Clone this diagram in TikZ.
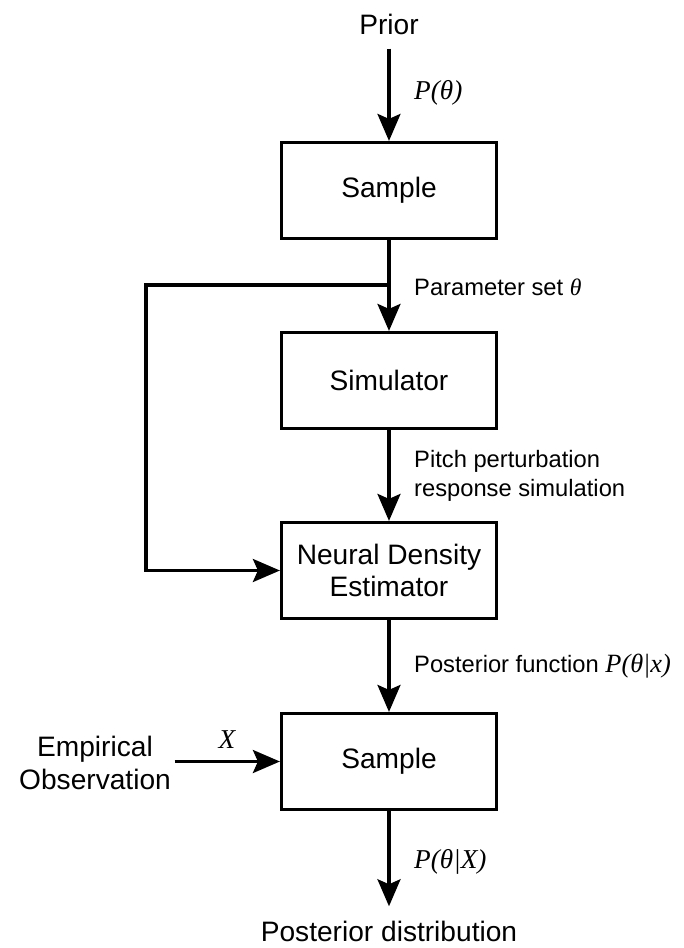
\documentclass[tikz,border=0pt]{standalone}
\usepackage{fontspec}
\setmainfont{Liberation Sans}
\newfontfamily\lblfont{Liberation Serif}
\usetikzlibrary{arrows.meta}

\begin{document}
\begin{tikzpicture}[
  box/.style={draw, line width=1.8pt, minimum width=4.3cm, minimum height=1.92cm, align=center, font=\fontsize{16}{18.7}\selectfont},
  term/.style={align=center, inner sep=8pt, font=\fontsize{16}{18.7}\selectfont},
  side/.style={anchor=west, align=left, font=\fontsize{13.5}{16.5}\selectfont},
  sym/.style={font=\fontsize{15.5}{17}\selectfont\lblfont\itshape},
  flow/.style={line width=1.8pt, -{Stealth[length=5.4mm, width=4.6mm, inset=1mm]}}
]
\useasboundingbox (-7.78, 0) rectangle (5.9, -18.96);

\node[term] (prior) at (0, -0.48) {Prior};
\node[box] (sample) at (0, -3.81) {Sample};
\node[box] (simulator) at (0, -7.61) {Simulator};
\node[box] (nde) at (0, -11.41) {Neural Density\\Estimator};
\node[box] (resample) at (0, -15.23) {Sample};
\node[term, inner xsep=2pt] (empirical) at (-5.88, -15.26) {Empirical\\Observation};
\node[term] (posterior) at (0, -18.62) {Posterior distribution};

\coordinate (branch) at (0, -5.70);
\coordinate (loop) at (-4.86, -5.70);

% labels on the arrows
\node[sym, anchor=west] (ptheta) at (0.38, -1.86) {P(θ)};
\node[side] (paramset) at (0.38, -5.74) {Parameter set {\lblfont\itshape θ}};
\node[side] (pitch) at (0.38, -9.52) {Pitch perturbation\\response simulation};
\node[side] (postfun) at (0.38, -13.32) {Posterior function {\lblfont\itshape\fontsize{15}{17}\selectfont P(θ|x)}};
\node[sym] (xobs) at (-3.24, -14.8) {X};
\node[sym, anchor=west] (pthetax) at (0.38, -17.24) {P(θ|X)};

\draw[flow] (prior) -- (sample);
\draw[flow] (sample) -- (simulator);
\draw[flow] (simulator) -- (nde);
\draw[flow] (branch) -- (loop) |- (nde.west);
\draw[flow] (nde) -- (resample);
\draw[flow] (empirical.east |- resample.west) -- (resample.west);
\draw[flow] (resample) -- (posterior);
\end{tikzpicture}
\end{document}
